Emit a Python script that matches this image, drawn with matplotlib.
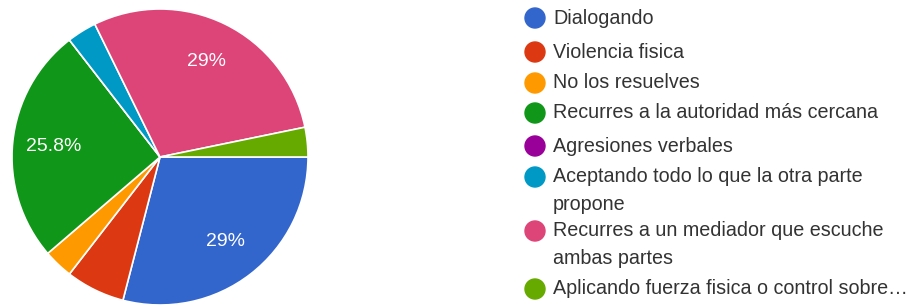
import matplotlib
matplotlib.use('Agg')
import matplotlib.pyplot as plt
from matplotlib.patches import Circle

plt.rcParams['font.family'] = ['Liberation Sans', 'DejaVu Sans']

labels = ['Dialogando', 'Violencia fisica', 'No los resuelves',
          'Recurres a la autoridad más cercana', 'Agresiones verbales',
          'Aceptando todo lo que la otra parte\npropone',
          'Recurres a un mediador que escuche\nambas partes',
          'Aplicando fuerza fisica o control sobre…']
counts = [9, 2, 1, 8, 0, 1, 9, 1]
colors = ['#3366cc', '#dc3912', '#ff9900', '#109618', '#990099',
          '#0099c6', '#dd4477', '#66aa00']

W, H = 912, 306
fig = plt.figure(figsize=(W / 100, H / 100), dpi=100)

# pie: center (160,157) px, radius 148 px
cx, cy, r = 160, 157, 148
ax = fig.add_axes([(cx - r) / W, (H - cy - r) / H, 2 * r / W, 2 * r / H])

def fmt(p):
    return ('%.1f%%' % p).replace('.0%', '%') if p >= 10 else ''

wedges, _, autotexts = ax.pie(counts, colors=colors, startangle=0, counterclock=False,
                              radius=1, autopct=fmt, pctdistance=0.72,
                              wedgeprops=dict(edgecolor='white', linewidth=1.2),
                              textprops=dict(color='white', fontsize=14))
ax.set_xlim(-1, 1)
ax.set_ylim(-1, 1)
ax.axis('off')

# legend drawn in pixel coordinates
lax = fig.add_axes([0, 0, 1, 1])
lax.set_xlim(0, W)
lax.set_ylim(H, 0)
lax.axis('off')
row_y = [18, 52, 83, 113, 146, 177, 231, 289]
for y, lab, col in zip(row_y, labels, colors):
    lax.add_patch(Circle((535, y), 10, color=col))
    for i, line in enumerate(lab.split('\n')):
        lax.text(553, y + i * 27, line, fontsize=14.2, color='#333333',
                 va='center', ha='left')

fig.savefig('out.png', dpi=100, facecolor='white')
